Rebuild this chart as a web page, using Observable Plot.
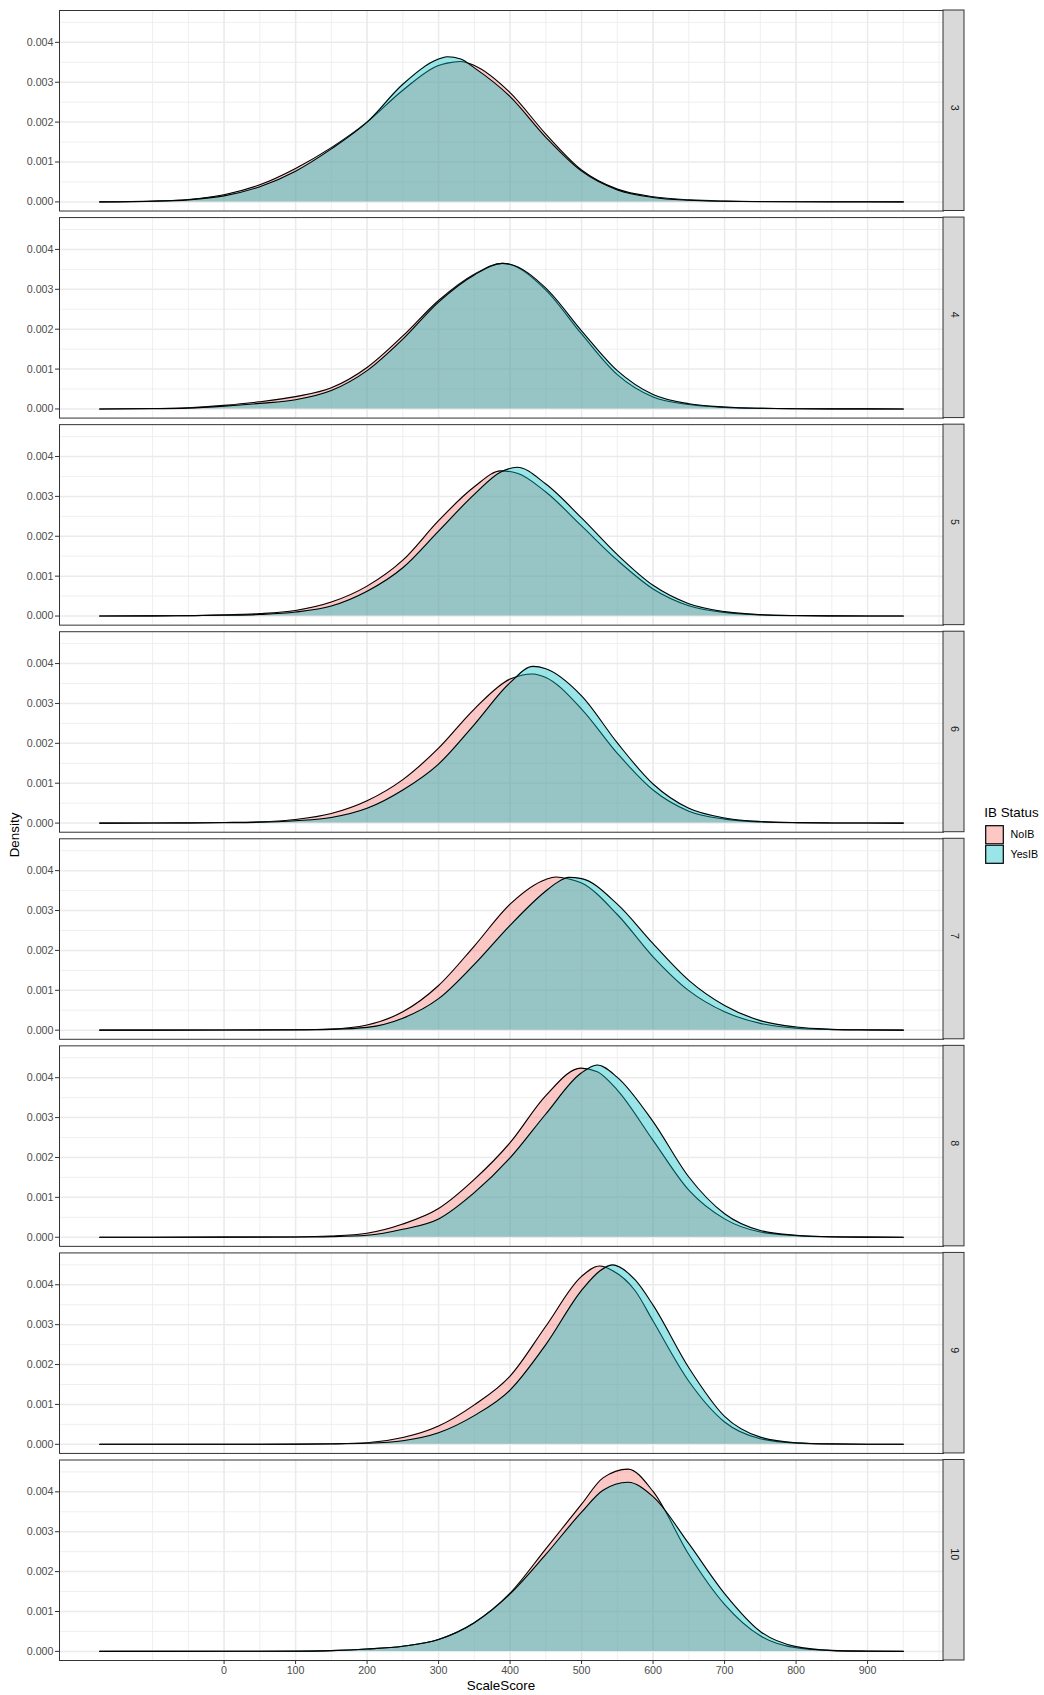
<!DOCTYPE html>
<html>
<head>
<meta charset="utf-8">
<script src="https://cdn.jsdelivr.net/npm/d3@7"></script>
<script src="https://cdn.jsdelivr.net/npm/@observablehq/plot@0.6"></script>
<style>
  html, body { margin: 0; padding: 0; background: #ffffff; }
  #chart svg { display: block; }
</style>
</head>
<body>
<div id="chart"></div>
<script>
// ---------------- DATA ----------------
const grades = [3, 4, 5, 6, 7, 8, 9, 10];
const groups = ["NoIB", "YesIB"];
const groupColors = ["#F8766D", "#00BFC4"];

const xTicks = [0, 100, 200, 300, 400, 500, 600, 700, 800, 900];
const yTicks = [0, 0.001, 0.002, 0.003, 0.004];
const yMinorTicks = [0.0005, 0.0015, 0.0025, 0.0035, 0.0045];

// Grade 3
const g3_x     = [-174, -100, -50, 0, 50, 100, 150, 200, 250, 300, 312, 331, 350, 400, 450, 500, 550, 600, 650, 700, 750, 800, 850, 900, 950];
const g3_NoIB  = [0, 0.00002, 0.00006, 0.00018, 0.00043, 0.00084, 0.00136, 0.00200, 0.00280, 0.00342, 0.00348, 0.00352, 0.00342, 0.00274, 0.00170, 0.00080, 0.00032, 0.00013, 0.00005, 0.00002, 0.00001, 0.000005, 0.000003, 0.000002, 0.000001];
const g3_YesIB = [0, 0.000015, 0.00005, 0.00015, 0.00038, 0.00077, 0.00133, 0.00200, 0.00295, 0.00358, 0.00364, 0.00358, 0.00336, 0.00264, 0.00162, 0.00077, 0.00030, 0.00011, 0.00004, 0.000015, 0.000005, 0.000002, 0.000001, 0.0000005, 0];

// Grade 4
const g4_x     = [-174, -100, -50, 0, 50, 100, 150, 200, 250, 300, 350, 389, 400, 450, 500, 550, 600, 650, 700, 750, 800, 850, 900, 950];
const g4_NoIB  = [0, 0.00001, 0.00003, 0.00009, 0.00018, 0.00031, 0.00053, 0.00104, 0.00183, 0.00272, 0.00338, 0.00365, 0.00362, 0.00298, 0.00188, 0.00086, 0.00030, 0.00011, 0.00004, 0.000015, 0.000006, 0.000003, 0.000001, 0];
const g4_YesIB = [0, 0.000005, 0.00002, 0.00007, 0.00014, 0.00023, 0.00046, 0.00096, 0.00175, 0.00268, 0.00336, 0.00365, 0.00363, 0.00303, 0.00196, 0.00096, 0.00036, 0.00013, 0.00005, 0.000018, 0.000007, 0.000003, 0.000001, 0];

// Grade 5
const g5_x     = [-174, -100, -50, 0, 50, 100, 150, 200, 250, 300, 350, 387, 410, 450, 500, 550, 600, 650, 700, 750, 800, 850, 900, 950];
const g5_NoIB  = [0, 0.000005, 0.00001, 0.00003, 0.00006, 0.00014, 0.00035, 0.00075, 0.00140, 0.00239, 0.00324, 0.00364, 0.00358, 0.00311, 0.00226, 0.00140, 0.00068, 0.00026, 0.00009, 0.00003, 0.00001, 0.000004, 0.000001, 0];
const g5_YesIB = [0, 0.000003, 0.000008, 0.00002, 0.00004, 0.00010, 0.00025, 0.00062, 0.00121, 0.00213, 0.00305, 0.00361, 0.00373, 0.00331, 0.00246, 0.00154, 0.00077, 0.00031, 0.00011, 0.000035, 0.000012, 0.000004, 0.000001, 0];

// Grade 6
const g6_x     = [-174, -100, -50, 0, 50, 100, 150, 200, 250, 300, 350, 400, 432, 450, 500, 550, 600, 650, 700, 750, 800, 850, 900, 950];
const g6_NoIB  = [0, 0.000003, 0.000006, 0.000015, 0.00003, 0.00009, 0.00024, 0.00056, 0.00109, 0.00188, 0.00286, 0.00361, 0.00374, 0.00365, 0.00286, 0.00175, 0.00083, 0.00030, 0.00010, 0.00003, 0.00001, 0.000004, 0.000001, 0];
const g6_YesIB = [0, 0.000002, 0.000004, 0.00001, 0.00002, 0.00006, 0.00014, 0.00037, 0.00083, 0.00148, 0.00247, 0.00352, 0.00393, 0.00387, 0.00319, 0.00201, 0.00098, 0.00037, 0.00013, 0.00004, 0.000012, 0.000004, 0.000001, 0];

// Grade 7
const g7_x     = [-174, -100, 0, 100, 150, 200, 250, 300, 350, 400, 450, 464, 482, 500, 550, 600, 650, 700, 750, 800, 850, 900, 950];
const g7_NoIB  = [0, 0.000002, 0.000005, 0.000012, 0.00003, 0.00013, 0.00046, 0.00112, 0.00211, 0.00316, 0.00378, 0.00384, 0.00379, 0.00369, 0.00290, 0.00184, 0.00099, 0.00046, 0.00017, 0.00005, 0.000015, 0.000005, 0];
const g7_YesIB = [0, 0.000001, 0.000003, 0.000007, 0.00002, 0.00007, 0.00030, 0.00079, 0.00165, 0.00263, 0.00349, 0.00368, 0.00383, 0.00380, 0.00316, 0.00217, 0.00125, 0.00062, 0.00024, 0.00008, 0.000025, 0.000008, 0];

// Grade 8
const g8_x     = [-174, -100, 0, 100, 150, 200, 250, 300, 350, 400, 450, 499, 522, 550, 600, 650, 700, 750, 800, 850, 900, 950];
const g8_NoIB  = [0, 0.000001, 0.000003, 0.000008, 0.00003, 0.00010, 0.00033, 0.00072, 0.00145, 0.00237, 0.00355, 0.00424, 0.00415, 0.00369, 0.00243, 0.00118, 0.00046, 0.00013, 0.00004, 0.00001, 0.000003, 0];
const g8_YesIB = [0, 0.000001, 0.000002, 0.000005, 0.000015, 0.00005, 0.00020, 0.00046, 0.00112, 0.00199, 0.00309, 0.00411, 0.00432, 0.00401, 0.00290, 0.00151, 0.00059, 0.00017, 0.00005, 0.000012, 0.000003, 0];

// Grade 9
const g9_x     = [-174, -100, 0, 100, 150, 200, 250, 300, 350, 400, 450, 500, 525, 543, 575, 600, 650, 700, 750, 800, 850, 900, 950];
const g9_NoIB  = [0, 0.000001, 0.000002, 0.000005, 0.000015, 0.00004, 0.00017, 0.00046, 0.00099, 0.00171, 0.00296, 0.00421, 0.00447, 0.00436, 0.00385, 0.00309, 0.00158, 0.00056, 0.00014, 0.00003, 0.000008, 0.000002, 0];
const g9_YesIB = [0, 0.0000005, 0.000001, 0.000003, 0.000008, 0.000025, 0.00009, 0.00029, 0.00072, 0.00136, 0.00250, 0.00386, 0.00434, 0.00450, 0.00412, 0.00349, 0.00192, 0.00070, 0.00018, 0.00004, 0.00001, 0.000002, 0];

// Grade 10
const g10_x     = [-174, -100, 0, 100, 150, 200, 250, 300, 350, 400, 450, 500, 530, 565, 600, 650, 700, 750, 800, 850, 900, 950];
const g10_NoIB  = [0, 0.000001, 0.000002, 0.000006, 0.00002, 0.00006, 0.00013, 0.00030, 0.00072, 0.00146, 0.00257, 0.00369, 0.00435, 0.00457, 0.00401, 0.00243, 0.00118, 0.00039, 0.00009, 0.00002, 0.000005, 0];
const g10_YesIB = [0, 0.000001, 0.000002, 0.000005, 0.00002, 0.00006, 0.00013, 0.00030, 0.00072, 0.00144, 0.00243, 0.00349, 0.00404, 0.00424, 0.00388, 0.00270, 0.00145, 0.00050, 0.00012, 0.000025, 0.000006, 0];

// ---------------- TABLE ----------------
const series = {
  3: [g3_x, g3_NoIB, g3_YesIB],
  4: [g4_x, g4_NoIB, g4_YesIB],
  5: [g5_x, g5_NoIB, g5_YesIB],
  6: [g6_x, g6_NoIB, g6_YesIB],
  7: [g7_x, g7_NoIB, g7_YesIB],
  8: [g8_x, g8_NoIB, g8_YesIB],
  9: [g9_x, g9_NoIB, g9_YesIB],
  10: [g10_x, g10_NoIB, g10_YesIB]
};
const rows = [];
for (const g of grades) {
  const [xs, no, yes] = series[g];
  xs.forEach((x, i) => rows.push({grade: g, group: "NoIB", score: x, density: no[i]}));
  xs.forEach((x, i) => rows.push({grade: g, group: "YesIB", score: x, density: yes[i]}));
}
const noRows = rows.filter(r => r.group === "NoIB");
const yesRows = rows.filter(r => r.group === "YesIB");

// ---------------- SCALES / LAYOUT ----------------
const xData = [d3.min(rows, r => r.score), d3.max(rows, r => r.score)];
const xPad = 0.05 * (xData[1] - xData[0]);
const xDomain = [xData[0] - xPad, xData[1] + xPad];
const yMax = d3.max(rows, r => r.density);
const yDomain = [-0.05 * yMax, 1.05 * yMax];
const W = 1044, H = 1695;
const mL = 59, mR = 101, mT = 10, mB = 35;
const pxPerUnit = (W - mL - mR) / (xDomain[1] - xDomain[0]);
const stripW = 21;
const xMinor = d3.range(-100, 1001, 50);

const font = "'Liberation Sans', Arial, Helvetica, sans-serif";
const tickFont = 10.7;
const titleFont = 13.4;
const dens = {x: "score", y: "density", fy: "grade", curve: "monotone-x"};

const plot = Plot.plot({
  width: W,
  height: H,
  marginLeft: mL,
  marginRight: mR,
  marginTop: mT,
  marginBottom: mB,
  style: {fontFamily: font, fontSize: tickFont + "px", background: "#ffffff", color: "#4d4d4d"},
  x: {domain: xDomain},
  y: {domain: yDomain},
  fy: {domain: grades, paddingInner: 0.0317, paddingOuter: 0, round: false, axis: null, label: null},
  color: {domain: groups, range: groupColors},
  marks: [
    Plot.gridX({ticks: xMinor, stroke: "#ebebeb", strokeOpacity: 1, strokeWidth: 0.8}),
    Plot.gridY({ticks: yMinorTicks, stroke: "#ebebeb", strokeOpacity: 1, strokeWidth: 0.8}),
    Plot.gridX({ticks: xTicks, stroke: "#ebebeb", strokeOpacity: 1, strokeWidth: 1.5}),
    Plot.gridY({ticks: yTicks, stroke: "#ebebeb", strokeOpacity: 1, strokeWidth: 1.5}),
    Plot.areaY(noRows, {...dens, fill: "group", fillOpacity: 0.4}),
    Plot.lineY(noRows, {...dens, stroke: "#000000", strokeWidth: 1.1}),
    Plot.areaY(yesRows, {...dens, fill: "group", fillOpacity: 0.4}),
    Plot.lineY(yesRows, {...dens, stroke: "#000000", strokeWidth: 1.1}),
    Plot.frame({stroke: "#333333", strokeWidth: 1}),
    Plot.rect([0], {
      x1: () => xDomain[1],
      x2: () => xDomain[1] + stripW / pxPerUnit,
      fill: "#d9d9d9",
      stroke: "#333333",
      strokeWidth: 1
    }),
    Plot.text(grades, {
      fy: d => d,
      text: d => String(d),
      frameAnchor: "right",
      dx: stripW / 2,
      rotate: 90,
      fill: "#1a1a1a",
      fontSize: tickFont
    }),
    Plot.axisY({ticks: yTicks, tickFormat: d => d.toFixed(3), tickSize: 4, tickPadding: 2, label: null, stroke: "#333333", fill: "#4d4d4d"}),
    Plot.axisX({ticks: xTicks, tickSize: 4, tickPadding: 2, label: null, stroke: "#333333", fill: "#4d4d4d"})
  ]
});

const svg = d3.select(plot);
// axis titles
svg.append("text")
  .attr("transform", `translate(15,${(mT + H - mB) / 2}) rotate(-90)`)
  .attr("text-anchor", "middle")
  .attr("dominant-baseline", "middle")
  .attr("fill", "#000")
  .style("font-family", font)
  .style("font-size", titleFont + "px")
  .text("Density");
svg.append("text")
  .attr("x", mL + (W - mL - mR) / 2)
  .attr("y", 1689.5)
  .attr("text-anchor", "middle")
  .attr("fill", "#000")
  .style("font-family", font)
  .style("font-size", titleFont + "px")
  .text("ScaleScore");

// legend (right side, inside the SVG)
const color = plot.scale("color");
const lg = svg.append("g").style("font-family", font).attr("text-anchor", "start");
lg.append("text").attr("x", 984.3).attr("y", 816.5).attr("fill", "#000")
  .attr("text-anchor", "start")
  .style("font-size", titleFont + "px").text("IB Status");
color.domain.forEach((k, i) => {
  const y0 = 825 + i * 19.5;
  lg.append("rect").attr("x", 985).attr("y", y0).attr("width", 19).attr("height", 19.5)
    .attr("fill", "#ffffff");
  lg.append("rect").attr("x", 985.7).attr("y", y0 + 0.7).attr("width", 17.6).attr("height", 18.1)
    .attr("fill", color.apply(k)).attr("fill-opacity", 0.4)
    .attr("stroke", "#000").attr("stroke-width", 1.2);
  lg.append("text").attr("x", 1010.5).attr("y", y0 + 9.75).attr("dy", "0.35em")
    .attr("text-anchor", "start")
    .attr("fill", "#000").style("font-size", tickFont + "px").text(k);
});

document.getElementById("chart").appendChild(plot);
</script>
</body>
</html>
